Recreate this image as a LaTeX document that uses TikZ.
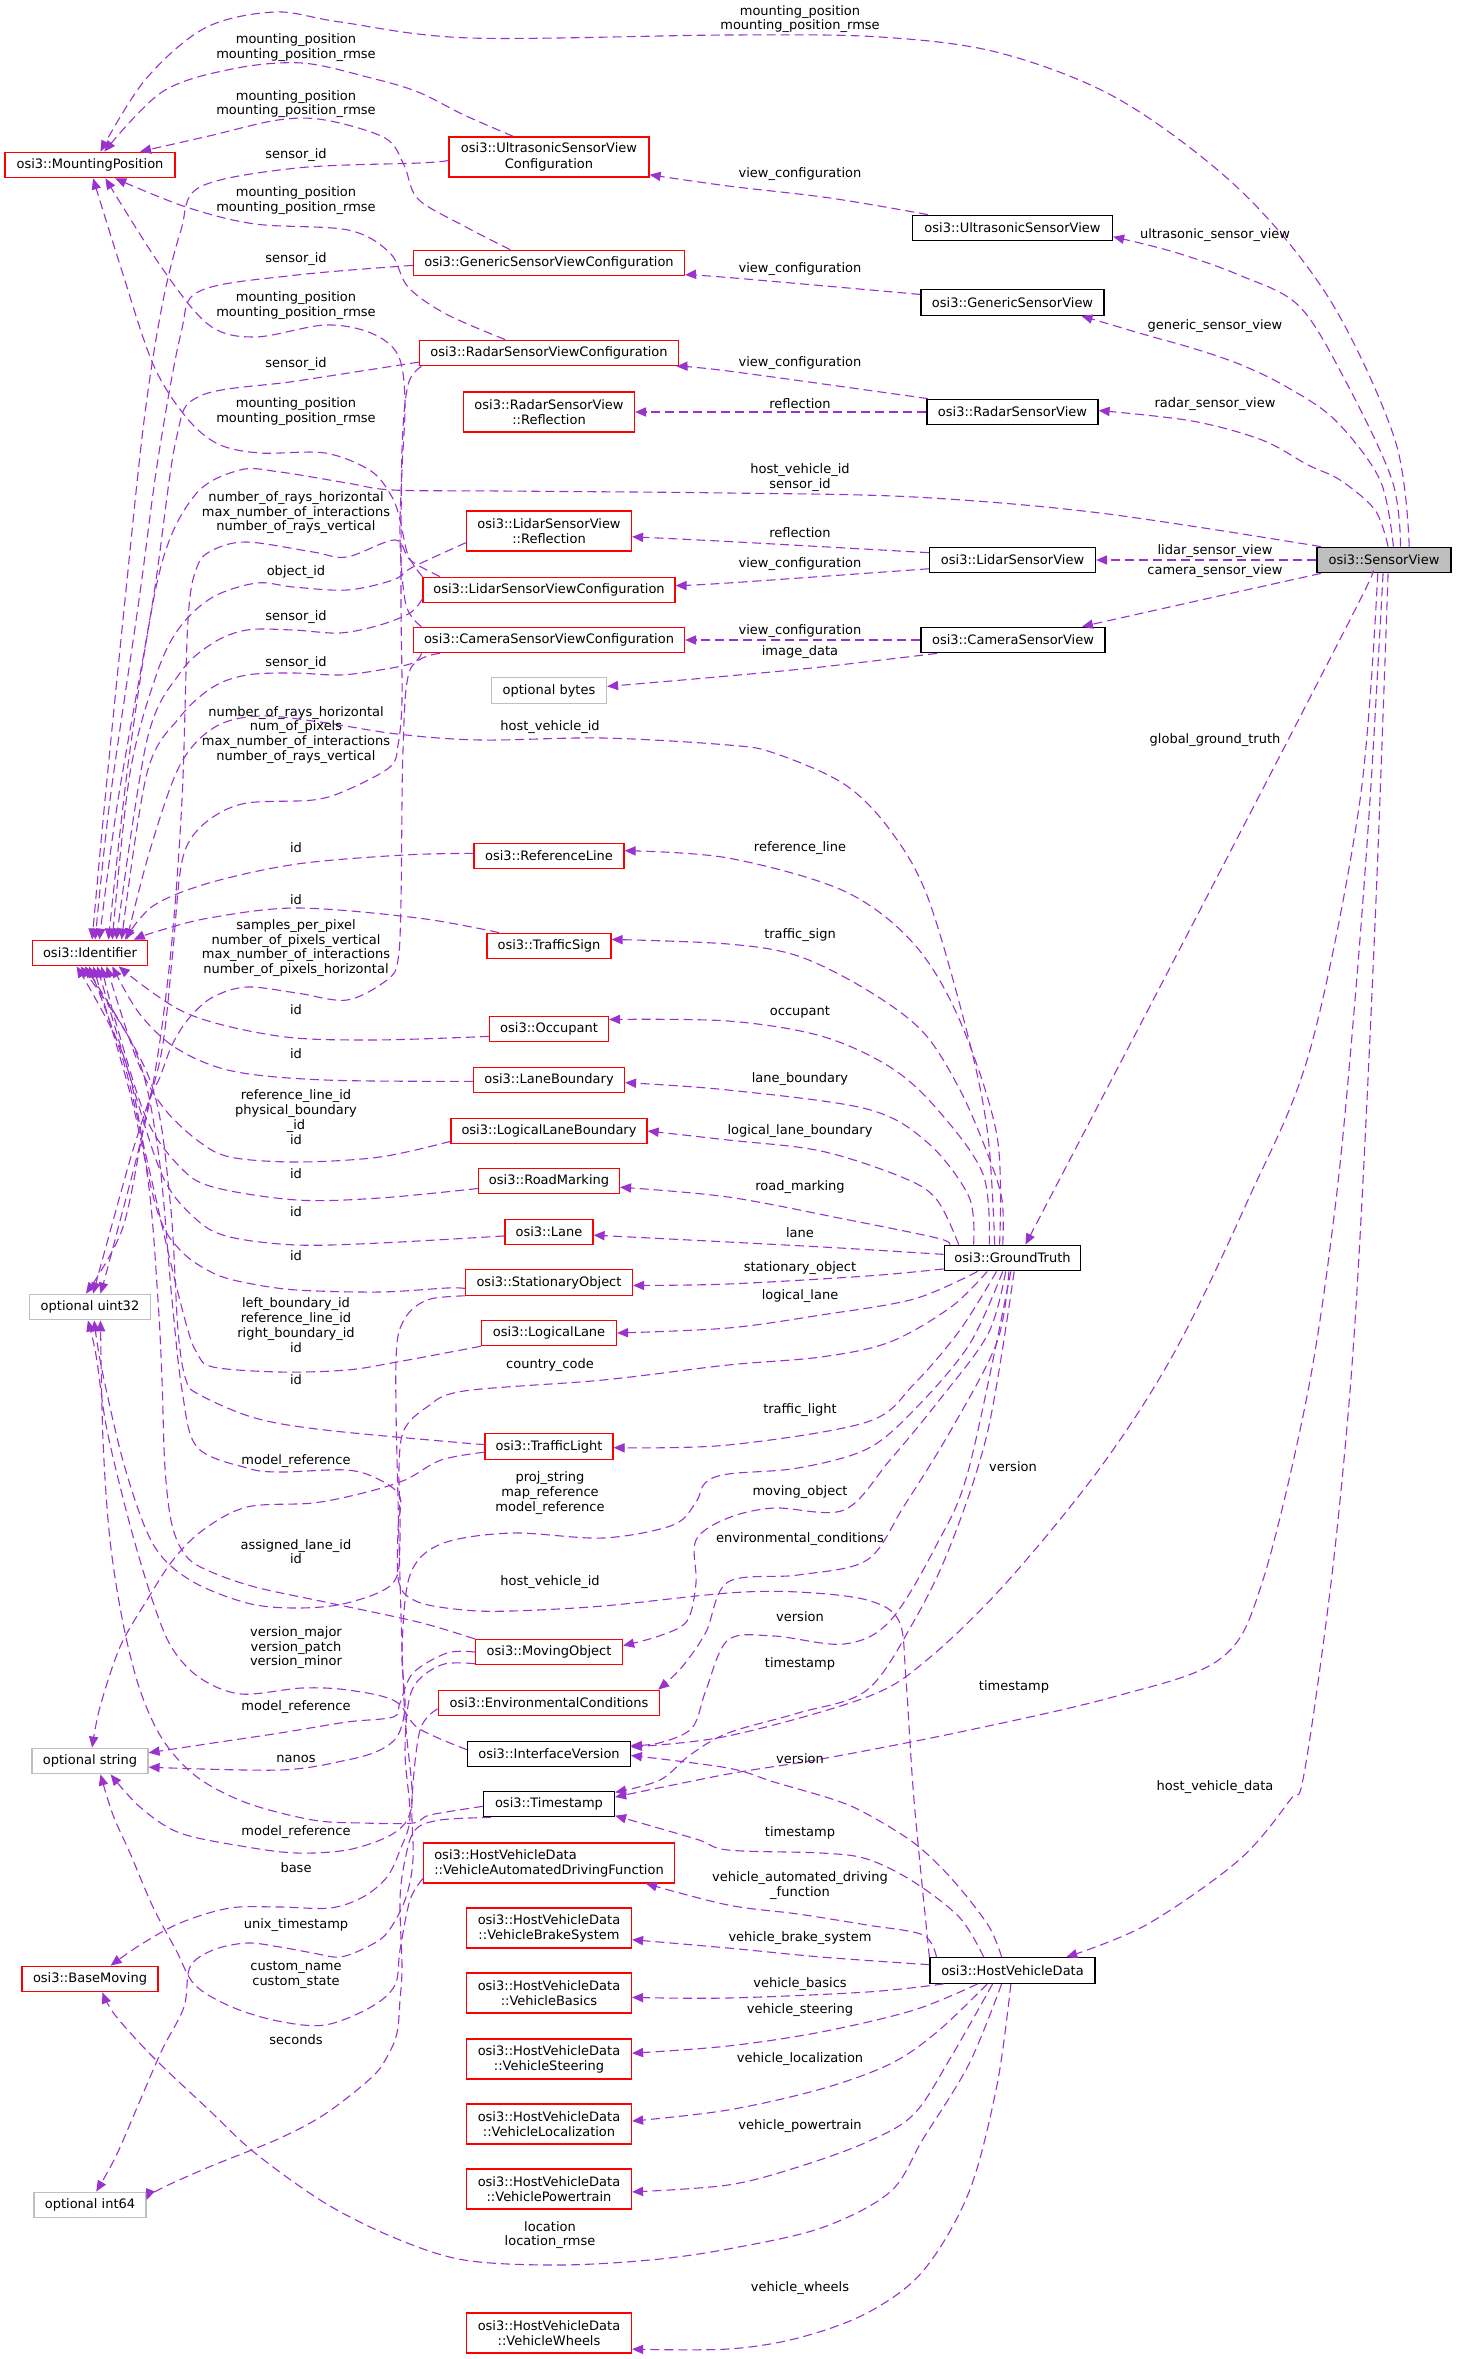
\documentclass[tikz,border=0pt]{standalone}
\usepackage{fontspec}
\setmainfont{DejaVu Sans}
\usetikzlibrary{arrows.meta}
\definecolor{edgec}{HTML}{9A32CD}
\definecolor{boxred}{HTML}{FF0000}
\definecolor{boxgray}{HTML}{BFBFBF}
\newcommand\nfont{\fontsize{6.5}{7.6}\selectfont}
\newcommand\lfont{\fontsize{6.5}{7.4}\selectfont}
\newcommand\conn[1]{\draw[e] plot[smooth,tension=0.55] coordinates {#1};}
\tikzset{
  box/.style={draw, line width=0.6pt, inner sep=1pt, font=\nfont, align=center, minimum height=12.8pt, fill=white},
  rbox/.style={box, draw=boxred},
  kbox/.style={box, draw=black},
  gbox/.style={box, draw=boxgray},
  dbl/.style={minimum height=20pt},
  e/.style={draw=edgec, line width=0.55pt, dash pattern=on 4.5pt off 2.5pt, -{Triangle[length=5.5pt,width=4.6pt]}},
  lbl/.style={font=\lfont, align=center, inner sep=0pt}
}
\begin{document}
\begin{tikzpicture}[x=0.5pt,y=-0.5pt]
\fill[white] (0,0) rectangle (1456,2359);
\useasboundingbox (0,0) rectangle (1456,2359);

% ---------------- edges (drawn first) ----------------
% coordinates are placeholders until nodes exist; so nodes are defined first below
\begin{scope}[on background layer/.style={}]
\end{scope}

% ---------------- nodes ----------------
% left column
\node[rbox, minimum width=85pt] (MP) at (90,165) {osi3::MountingPosition};
\node[rbox, minimum width=57.5pt] (ID) at (90,953) {osi3::Identifier};
\node[gbox, minimum width=60.5pt] (U32) at (90,1307) {optional uint32};
\node[gbox, minimum width=58pt] (STR) at (90,1761) {optional string};
\node[rbox, minimum width=68pt] (BM) at (90,1979) {osi3::BaseMoving};
\node[gbox, minimum width=56pt] (I64) at (90,2205) {optional int64};
% middle column
\node[rbox, dbl, minimum width=100pt] (USVC) at (549,157) {osi3::UltrasonicSensorView\\Configuration};
\node[rbox, minimum width=135.5pt] (GSVC) at (549,263) {osi3::GenericSensorViewConfiguration};
\node[rbox, minimum width=129.5pt] (RSVC) at (549,353) {osi3::RadarSensorViewConfiguration};
\node[rbox, dbl, minimum width=85.5pt] (RSVR) at (549,412) {osi3::RadarSensorView\\::Reflection};
\node[rbox, dbl, minimum width=82.5pt] (LSVR) at (549,531) {osi3::LidarSensorView\\::Reflection};
\node[rbox, minimum width=126pt] (LSVC) at (549,590) {osi3::LidarSensorViewConfiguration};
\node[rbox, minimum width=135.5pt] (CSVC) at (549,640) {osi3::CameraSensorViewConfiguration};
\node[gbox, minimum width=57.5pt] (BYTES) at (549,690.5) {optional bytes};
\node[rbox, minimum width=75pt] (REFL) at (549,856) {osi3::ReferenceLine};
\node[rbox, minimum width=62pt] (TSIGN) at (549,946) {osi3::TrafficSign};
\node[rbox, minimum width=59.5pt] (OCC) at (549,1029) {osi3::Occupant};
\node[rbox, minimum width=75.5pt] (LB) at (549,1080) {osi3::LaneBoundary};
\node[rbox, minimum width=98pt] (LLB) at (549,1131) {osi3::LogicalLaneBoundary};
\node[rbox, minimum width=70.5pt] (RM) at (549,1181) {osi3::RoadMarking};
\node[rbox, minimum width=44pt] (LANE) at (549,1232) {osi3::Lane};
\node[rbox, minimum width=83.5pt] (SO) at (549,1282.5) {osi3::StationaryObject};
\node[rbox, minimum width=67.5pt] (LL) at (549,1333) {osi3::LogicalLane};
\node[rbox, minimum width=64pt] (TL) at (549,1446.5) {osi3::TrafficLight};
\node[rbox, minimum width=73.5pt] (MO) at (549,1652) {osi3::MovingObject};
\node[rbox, minimum width=110.75pt] (EC) at (549,1703) {osi3::EnvironmentalConditions};
\node[kbox, minimum width=81.25pt] (IV) at (549,1754) {osi3::InterfaceVersion};
\node[kbox, minimum width=65.5pt] (TS) at (549,1804) {osi3::Timestamp};
\node[rbox, dbl, minimum width=125.5pt, align=left] (VADF) at (549,1863) {osi3::HostVehicleData\\::VehicleAutomatedDrivingFunction};
\node[rbox, dbl, minimum width=82.5pt] (VBS) at (549,1928) {osi3::HostVehicleData\\::VehicleBrakeSystem};
\node[rbox, dbl, minimum width=82.5pt] (VB) at (549,1993) {osi3::HostVehicleData\\::VehicleBasics};
\node[rbox, dbl, minimum width=82.5pt] (VS) at (549,2059) {osi3::HostVehicleData\\::VehicleSteering};
\node[rbox, dbl, minimum width=82.5pt] (VL) at (549,2124) {osi3::HostVehicleData\\::VehicleLocalization};
\node[rbox, dbl, minimum width=82.5pt] (VP) at (549,2189) {osi3::HostVehicleData\\::VehiclePowertrain};
\node[rbox, dbl, minimum width=82.5pt] (VW) at (549,2333) {osi3::HostVehicleData\\::VehicleWheels};
% right columns
\node[kbox, minimum width=100pt] (USV) at (1012.5,228) {osi3::UltrasonicSensorView};
\node[kbox, minimum width=91.5pt] (GSV) at (1012.5,302.5) {osi3::GenericSensorView};
\node[kbox, minimum width=85.5pt] (RSV) at (1012.5,412) {osi3::RadarSensorView};
\node[kbox, minimum width=83pt] (LSV) at (1012.5,560) {osi3::LidarSensorView};
\node[kbox, minimum width=92pt] (CSV) at (1013,640) {osi3::CameraSensorView};
\node[kbox, minimum width=68.25pt] (GT) at (1012.5,1258) {osi3::GroundTruth};
\node[kbox, minimum width=82.5pt] (HVD) at (1012.5,1970.5) {osi3::HostVehicleData};
\node[kbox, minimum width=67pt, fill=boxgray] (SV) at (1384,560) {osi3::SensorView};

% ---------------- edges from SensorView ----------------
\conn{(SV.28) (1395,440) (1330,300) (1240,190) (1120,100) (1000,53) (880,37) (728,35) (470,38) (340,22) (275,12) (205,28) (145,80) (MP.52)}
\conn{(SV.39) (1392,480) (1345,380) (1299,306) (1239,275) (1174,252) (USV.-5)}
\conn{(SV.55) (1380,480) (1335,420) (1285,386) (1239,364) (1192,348) (1146,335) (GSV.-11)}
\conn{(SV.73) (1375,510) (1340,480) (1308,465) (1262,440) (1192,421) (RSV.1)}
\draw[e] (SV.west) -- (LSV.east);
\conn{(SV.-168) (1201,600) (CSV.11)}
\conn{(SV.168) (1100,513) (914,497) (728,493) (500,491) (393,490) (347,483) (280,472) (240,470) (195,495) (160,570) (130,750) (ID.36)}
\conn{(SV.-133) (1355,610) (1200,910) (GT.46)}
\conn{(SV.-115) (1360,800) (1310,1050) (1248,1200) (1174,1353) (1100,1468) (1006,1583) (928,1659) (867,1697) (728,1736) (IV.5)}
\conn{(SV.-94) (1370,800) (1355,1000) (1336,1200) (1308,1391) (1262,1583) (1220,1659) (1113,1697) (960,1732) (821,1759) (728,1774) (TS.6)}
\conn{(SV.-73) (1376,900) (1362,1200) (1350,1391) (1331,1583) (1304,1774) (1290,1800) (1239,1860) (1146,1925) (HVD.14)}
% sensor views
\conn{(USV.171) (830,198) (728,186) (USVC.-10)}
\conn{(GSV.175) (728,277.5) (GSVC.-5)}
\conn{(RSV.171) (728,371) (RSVC.-6)}
\draw[e] (RSV.west) -- (RSVR.east);
\conn{(LSV.175) (728,541.5) (LSVR.-4)}
\conn{(LSV.-174) (728,583) (LSVC.2)}
\draw[e] (CSV.west) -- (CSVC.east);
\conn{(CSV.-170) (821,667) (728,676) (BYTES.4)}
% ground truth
\conn{(GT.143) (988,1136) (969,1040) (928,898) (890,830) (844,784) (774,753) (728,745) (603,738) (480,740) (397,734) (320,722) (260,716) (215,727) (180,765) (150,850) (ID.20)}
\conn{(GT.134) (997,1136) (960,1021) (914,944) (844,891) (728,858) (REFL.4)}
\conn{(GT.126) (1002,1200) (988,1155) (960,1090) (923,1032) (867,990) (798,956) (728,944) (TSIGN.6)}
\conn{(GT.150) (983,1174) (937,1109) (890,1067) (821,1036) (728,1021) (OCC.9)}
\conn{(GT.161) (969,1197) (928,1143) (867,1109) (728,1090) (LB.-2)}
\conn{(GT.166) (937,1200) (904,1178) (821,1151) (728,1140) (LLB.east)}
\conn{(GT.168) (937,1238) (844,1219) (728,1197) (RM.-5)}
\conn{(GT.177) (840,1248) (728,1242) (LANE.-4)}
\conn{(GT.-171) (867,1276) (728,1284) (SO.-2)}
\conn{(GT.-159) (914,1299) (821,1315) (728,1328) (LL.east)}
\conn{(GT.-152) (951,1307) (890,1342) (821,1357) (728,1365) (603,1380) (464,1391) (427,1407) (404,1430) (399,1468) (400,1540) (393,1583) (347,1603) (297,1608) (247,1603) (190,1580) (153,1544) (125,1468) (102,1370) (U32.-73)}
\conn{(GT.-140) (960,1330) (914,1384) (867,1422) (728,1445) (TL.-1)}
\conn{(GT.-126) (969,1345) (914,1410) (867,1449) (798,1468) (728,1474) (705,1483) (696,1502) (673,1525) (603,1538) (511,1533) (441,1544) (410,1575) (402,1650) (405,1705) (398,1735) (380,1750) (347,1760) (280,1770) (STR.-6)}
\conn{(GT.-117) (988,1334) (937,1403) (890,1460) (844,1510) (774,1508) (728,1518) (696,1540) (696,1583) (687,1621) (659,1636) (MO.5)}
\conn{(GT.-105) (997,1342) (951,1430) (904,1506) (867,1560) (798,1575) (728,1582) (706,1632) (682,1667) (EC.7)}
\conn{(GT.-97) (969,1468) (937,1544) (890,1621) (844,1644) (774,1636) (728,1640) (706,1690) (692,1728) (659,1743) (IV.6)}
\conn{(GT.-83) (988,1430) (951,1544) (914,1621) (867,1690) (798,1713) (728,1733) (690,1755) (660,1780) (TS.10)}
% host vehicle data
\conn{(HVD.129) (988,1925) (951,1878) (914,1843) (867,1814) (835,1800) (774,1782) (728,1768) (IV.-1)}
\conn{(HVD.155) (960,1918) (914,1882) (867,1859) (821,1853) (728,1850) (696,1839) (TS.-10)}
\conn{(HVD.170) (923,1935) (867,1925) (798,1914) (728,1905) (VADF.-12)}
\conn{(HVD.176) (821,1957) (728,1948) (VBS.-8)}
\conn{(HVD.-169) (867,1992) (728,1998) (VB.-3)}
\conn{(HVD.-159) (914,2010) (821,2032) (728,2046) (VS.4)}
\conn{(HVD.-152) (937,2032) (890,2064) (821,2089) (728,2110) (VL.2)}
\conn{(HVD.-146) (951,2057) (914,2114) (867,2142) (798,2167) (728,2185) (VP.-2)}
\conn{(HVD.-129) (969,2064) (923,2139) (890,2192) (821,2228) (728,2249) (650,2260) (557,2265) (464,2260) (395,2238) (325,2203) (255,2153) (209,2110) (153,2057) (115,2015) (BM.-47)}
\conn{(HVD.-97) (997,2085) (969,2192) (923,2271) (867,2313) (798,2338) (728,2349) (VW.-11)}
\conn{(HVD.171) (914,1800) (906,1680) (899,1621) (867,1600) (798,1592) (728,1593) (603,1606) (511,1611) (464,1610) (418,1602) (399,1583) (398,1530) (400,1497) (380,1480) (347,1470) (280,1472) (247,1468) (197,1447) (182,1390) (172,1300) (158,1150) (135,1050) (ID.-125)}
% middle to mounting position
\conn{(USVC.150) (464,115) (418,92) (371,78) (302,63) (232,69) (162,92) (MP.43)}
\conn{(GSVC.161) (464,226) (418,199) (404,165) (385,138) (325,120) (278,120) (209,136) (MP.15)}
\conn{(RSVC.163) (446,314) (408,287) (390,253) (348,230) (255,224) (186,207) (MP.-28)}
\conn{(CSVC.174) (406,605) (400,540) (402,470) (405,400) (398,355) (371,333) (325,325) (255,337) (209,325) (162,268) (MP.-41)}
\conn{(LSVC.174) (408,555) (400,520) (392,497) (371,471) (325,453) (260,453) (218,444) (186,417) (153,364) (121,268) (MP.-77)}
% middle to identifier (top)
\conn{(USVC.-178) (420,163) (297,168) (200,187) (181,230) (162,306) (144,421) (125,600) (105,800) (ID.81)}
\conn{(GSVC.-179) (297,275) (200,291) (181,333) (158,459) (139,600) (110,800) (ID.69)}
\conn{(RSVC.-176) (297,381) (200,396) (176,440) (153,600) (118,800) (ID.55)}
\conn{(LSVR.-172) (413,567) (393,580) (347,590) (293,587) (257,583) (213,597) (180,627) (157,673) (130,773) (ID.31)}
\conn{(LSVC.-176) (410,613) (380,625) (340,633) (293,630) (247,630) (213,643) (180,673) (147,740) (ID.27)}
\conn{(CSVC.-174) (413,663) (380,670) (340,675) (293,673) (247,675) (213,687) (180,717) (147,773) (ID.23)}
\conn{(REFL.178) (404,855) (297,864) (209,883) (153,906) (ID.21)}
\conn{(TSIGN.165) (418,918) (297,908) (209,918) (155,932) (ID.17)}
% middle to uint32 (top)
\conn{(LSVC.173) (410,560) (395,540) (347,557) (313,552) (247,542) (213,550) (197,567) (188,620) (182,800) (170,960) (150,1100) (115,1240) (U32.52)}
\conn{(RSVC.-174) (408,385) (402,450) (401,600) (402,700) (398,745) (390,767) (347,790) (313,800) (247,803) (213,817) (190,840) (180,873) (172,960) (160,1060) (130,1160) (U32.77)}
\conn{(CSVC.-173) (410,670) (403,750) (401,900) (398,960) (387,980) (347,1000) (297,993) (247,987) (213,997) (190,1017) (173,1043) (160,1077) (147,1110) (123,1227) (U32.107)}
% middle to identifier (bottom)
\conn{(OCC.-173) (371,1040) (278,1036) (186,1013) (ID.-25)}
\conn{(LB.-179) (325,1080) (232,1071) (176,1048) (139,1013) (ID.-31)}
\conn{(LLB.-174) (380,1157) (297,1162) (230,1157) (197,1140) (163,1107) (137,1060) (ID.-39)}
\conn{(RM.-174) (380,1198) (297,1200) (213,1187) (180,1167) (147,1120) (118,1030) (ID.-50)}
\conn{(LANE.-175) (380,1243) (297,1245) (230,1237) (197,1220) (163,1177) (130,1077) (ID.-62)}
\conn{(SO.-176) (447,1288) (380,1292) (297,1290) (247,1283) (213,1273) (180,1250) (157,1210) (130,1093) (ID.-77)}
\conn{(LL.-169) (397,1362) (347,1370) (280,1372) (213,1367) (197,1353) (187,1327) (170,1260) (147,1160) (123,1060) (ID.-94)}
\conn{(TL.178) (464,1443) (325,1430) (255,1418) (200,1395) (186,1380) (178,1330) (170,1200) (150,1080) (ID.-111)}
\conn{(MO.170) (418,1622) (325,1602) (255,1587) (209,1571) (186,1556) (172,1525) (165,1468) (162,1380) (158,1300) (148,1180) (125,1060) (ID.-135)}
% to optional string
\conn{(TL.-175) (441,1460) (405,1480) (363,1493) (313,1503) (247,1507) (203,1530) (173,1560) (147,1600) (120,1647) (100,1707) (STR.81)}
\conn{(MO.180) (447,1653) (413,1673) (400,1703) (393,1717) (347,1722) (280,1733) (213,1743) (STR.8)}
\conn{(SO.-171) (427,1300) (404,1320) (396,1360) (398,1500) (404,1700) (412,1790) (407,1820) (387,1837) (347,1850) (297,1853) (247,1847) (180,1833) (140,1807) (STR.-33)}
\conn{(VADF.-173) (410,1900) (400,1950) (395,1985) (371,2007) (325,2025) (278,2021) (232,2007) (195,1985) (176,1950) (153,1907) (130,1853) (113,1815) (STR.-52)}
% to uint32 (bottom)
\conn{(IV.177) (418,1728) (395,1701) (348,1690) (302,1688) (241,1694) (200,1678) (172,1648) (153,1602) (130,1525) (107,1430) (96,1355) (U32.-99)}
\conn{(TS.-178) (430,1815) (413,1823) (363,1823) (313,1820) (247,1803) (197,1777) (163,1740) (140,1690) (123,1623) (110,1540) (103,1440) (U32.-52)}
% base moving / int64
\conn{(MO.-171) (441,1665) (412,1690) (405,1750) (410,1817) (400,1850) (387,1877) (363,1897) (330,1908) (280,1907) (230,1908) (180,1923) (140,1945) (BM.33)}
\conn{(EC.-177) (420,1730) (412,1800) (413,1860) (405,1900) (387,1933) (367,1947) (340,1957) (313,1953) (280,1947) (247,1943) (213,1950) (190,1967) (184,2007) (162,2050) (139,2103) (116,2156) (I64.65)}
\conn{(TS.-167) (440,1820) (415,1830) (405,1860) (400,1900) (402,1967) (400,2000) (397,2033) (387,2057) (371,2078) (325,2114) (278,2139) (209,2167) (158,2190) (I64.5)}

% ---------------- labels ----------------
% rank 1
\node[lbl] (lm1) at (296,47.9) {mounting\_position\\mounting\_position\_rmse};
\node[lbl] (lm2) at (296,104) {mounting\_position\\mounting\_position\_rmse};
\node[lbl] (lm3) at (296,200.2) {mounting\_position\\mounting\_position\_rmse};
\node[lbl] (lm4) at (296,305.6) {mounting\_position\\mounting\_position\_rmse};
\node[lbl] (lm5) at (296,411.2) {mounting\_position\\mounting\_position\_rmse};
\node[lbl] (ls1) at (296,154.6) {sensor\_id};
\node[lbl] (ls2) at (296,259.5) {sensor\_id};
\node[lbl] (ls3) at (296,363.6) {sensor\_id};
\node[lbl] (lnr1) at (296,512.6) {number\_of\_rays\_horizontal\\max\_number\_of\_interactions\\number\_of\_rays\_vertical};
\node[lbl] (lobj) at (296,571.7) {object\_id};
\node[lbl] (ls4) at (296,616.7) {sensor\_id};
\node[lbl] (ls5) at (296,662.7) {sensor\_id};
\node[lbl] (lnr2) at (296,734.8) {number\_of\_rays\_horizontal\\num\_of\_pixels\\max\_number\_of\_interactions\\number\_of\_rays\_vertical};
\node[lbl] (lid1) at (296,847.3) {id};
\node[lbl] (lid2) at (296,899.3) {id};
\node[lbl] (lspp) at (296,948) {samples\_per\_pixel\\number\_of\_pixels\_vertical\\max\_number\_of\_interactions\\number\_of\_pixels\_horizontal};
\node[lbl] (lid3) at (296,1010) {id};
\node[lbl] (lid4) at (296,1054) {id};
\node[lbl] (lllb) at (296,1117) {reference\_line\_id\\physical\_boundary\\\_id\\id};
\node[lbl] (lid5) at (296,1174) {id};
\node[lbl] (lid6) at (296,1212) {id};
\node[lbl] (lid7) at (296,1256) {id};
\node[lbl] (lll) at (296,1325.3) {left\_boundary\_id\\reference\_line\_id\\right\_boundary\_id\\id};
\node[lbl] (lid8) at (296,1380) {id};
\node[lbl] (lmr1) at (296,1460.7) {model\_reference};
\node[lbl] (lali) at (296,1551.7) {assigned\_lane\_id\\id};
\node[lbl] (lver) at (296,1647.7) {version\_major\\version\_patch\\version\_minor};
\node[lbl] (lmr2) at (296,1707.3) {model\_reference};
\node[lbl] (lnan) at (296,1759) {nanos};
\node[lbl] (lmr3) at (296,1831.7) {model\_reference};
\node[lbl] (lbase) at (296,1867.7) {base};
\node[lbl] (lunix) at (296,1925) {unix\_timestamp};
\node[lbl] (lcust) at (296,1975.2) {custom\_name\\custom\_state};
\node[lbl] (lsec) at (296,2039.3) {seconds};
% rank 2
\node[lbl] (lhv1) at (550,727) {host\_vehicle\_id};
\node[lbl] (lcc) at (550,1364.6) {country\_code};
\node[lbl] (lproj) at (550,1493) {proj\_string\\map\_reference\\model\_reference};
\node[lbl] (lhv2) at (550,1582) {host\_vehicle\_id};
\node[lbl] (lloc) at (550,2235) {location\\location\_rmse};
% rank 3
\node[lbl] (lsvmp) at (800,19) {mounting\_position\\mounting\_position\_rmse};
\node[lbl] (lvc1) at (800,174.5) {view\_configuration};
\node[lbl] (lvc2) at (800,268.7) {view\_configuration};
\node[lbl] (lvc3) at (800,362.8) {view\_configuration};
\node[lbl] (lref1) at (800,403.4) {reflection};
\node[lbl] (lhvs) at (800,477.3) {host\_vehicle\_id\\sensor\_id};
\node[lbl] (lref2) at (800,532.3) {reflection};
\node[lbl] (lvc4) at (800,564.5) {view\_configuration};
\node[lbl] (lvc5) at (800,631.4) {view\_configuration};
\node[lbl] (limg) at (800,651.7) {image\_data};
\node[lbl] (lrl) at (800,847.6) {reference\_line};
\node[lbl] (lts) at (800,934.9) {traffic\_sign};
\node[lbl] (locc) at (800,1012) {occupant};
\node[lbl] (llbd) at (800,1079.5) {lane\_boundary};
\node[lbl] (lllbd) at (800,1130.8) {logical\_lane\_boundary};
\node[lbl] (lrm) at (800,1187.5) {road\_marking};
\node[lbl] (llane) at (800,1232.5) {lane};
\node[lbl] (lso) at (800,1268.5) {stationary\_object};
\node[lbl] (lll2) at (800,1296.4) {logical\_lane};
\node[lbl] (ltl) at (800,1410.5) {traffic\_light};
\node[lbl] (lmo) at (800,1491.6) {moving\_object};
\node[lbl] (lec) at (800,1539.4) {environmental\_conditions};
\node[lbl] (lgver) at (800,1616.4) {version};
\node[lbl] (lgts) at (800,1663.8) {timestamp};
\node[lbl] (lhver) at (800,1758.7) {version};
\node[lbl] (lhts) at (800,1832.4) {timestamp};
\node[lbl] (lvadf) at (800,1885.5) {vehicle\_automated\_driving\\\_function};
\node[lbl] (lvbs) at (800,1938) {vehicle\_brake\_system};
\node[lbl] (lvb) at (800,1983.6) {vehicle\_basics};
\node[lbl] (lvs) at (800,2010) {vehicle\_steering};
\node[lbl] (lvl) at (800,2059.5) {vehicle\_localization};
\node[lbl] (lvp) at (800,2126) {vehicle\_powertrain};
\node[lbl] (lvw) at (800,2288.4) {vehicle\_wheels};
% rank 4/5
\node[lbl] (lusv) at (1215,234.6) {ultrasonic\_sensor\_view};
\node[lbl] (lgsv) at (1215,326.5) {generic\_sensor\_view};
\node[lbl] (lrsv) at (1215,403.7) {radar\_sensor\_view};
\node[lbl] (llsv) at (1215,551.5) {lidar\_sensor\_view};
\node[lbl] (lcsv) at (1215,571.4) {camera\_sensor\_view};
\node[lbl] (lggt) at (1215,739.7) {global\_ground\_truth};
\node[lbl] (lsver) at (1013,1466.7) {version};
\node[lbl] (lsts) at (1014,1687) {timestamp};
\node[lbl] (lhvd) at (1215,1787.5) {host\_vehicle\_data};
\end{tikzpicture}
\end{document}
